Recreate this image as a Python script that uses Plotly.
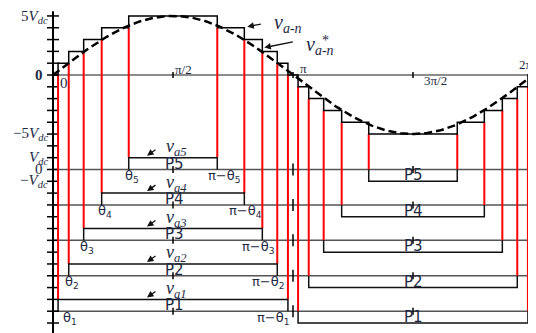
import numpy as np
import plotly.graph_objects as go

# switching angles (degrees), one per level
theta_deg = [3.8, 11.8, 23.0, 36.5, 56.8]
step_levels = [1, 2, 3, 4, 5]
amplitude = 5.0  # peak of the reference sine, in Vdc
pulse_names = ['P1', 'P2', 'P3', 'P4', 'P5']
ytick_vals = [5, 0, -5, -7, -8, -9]
ytick_text = ['5<i>V</i><sub><i>dc</i></sub>', '<b>0</b>', '−5<i>V</i><sub><i>dc</i></sub>',
              '<i>V</i><sub><i>dc</i></sub>', '0', '−<i>V</i><sub><i>dc</i></sub>']
xtick_vals = [0.5, 1.0, 1.5, 2.0]  # in units of pi
xtick_text = ['π/2', 'π', '3π/2', '2π']

pi = np.pi
th = np.radians(theta_deg)
n = len(step_levels)

# the page body keeps its 8px margin, so the figure starts at (8, 8)
W, H = 528, 325
px_x = 480 / (2 * pi)    # px per radian
px_y = 11.81             # px per Vdc
x0_px, y0_px = 45, 67
xr = [-x0_px / px_x, (W - x0_px) / px_x]
yr = [-(H - y0_px) / px_y, y0_px / px_y]
xmax = xr[1]

def base(k):
    return -(n + 3) - 3 * (n - k)

fig = go.Figure()

def line(x, y, color, width, dash='solid'):
    fig.add_trace(go.Scatter(x=x, y=y, mode='lines', hoverinfo='skip',
                             line=dict(color=color, width=width, dash=dash)))

# axes
line([0, xmax], [0, 0], '#666', 1.5)
for k in step_levels:
    line([0, xmax], [base(k), base(k)], '#555', 1.5)
line([0, 0], [5.4, yr[0]], 'black', 2)
tx, ty = [], []
for v in range(5, -22, -1):
    tx += [-6 / px_x, 6 / px_x, None]
    ty += [v, v, None]
for xv in xtick_vals:
    tx += [xv * pi, xv * pi, None]
    ty += [-3 / px_y, 3 / px_y, None]
    for k in step_levels:
        h = 6 if xv in (1.0, 2.0) else 3.5
        tx += [xv * pi, xv * pi, None]
        ty += [base(k) - h / px_y, base(k) + h / px_y, None]
line(tx, ty, 'black', 1.5)

# red switching lines
rx, ry = [], []
for k, t in zip(step_levels, th):
    b = base(k)
    rx += [t, t, None, pi - t, pi - t, None, pi + t, pi + t, None, 2 * pi - t, 2 * pi - t, None]
    ry += [k - 1, b + 1, None, k - 1, b + 1, None, -k, b, None, -k, b, None]
line(rx, ry, '#ff0000', 2)

# pulse trains P1..P5
for k, t in zip(step_levels, th):
    b = base(k)
    line([t, t, pi - t, pi - t], [b, b + 1, b + 1, b], '#111', 1.5)
    line([pi + t, pi + t, 2 * pi - t, 2 * pi - t], [b, b - 1, b - 1, b], '#111', 1.5)

# staircase v_a-n
sx, sy = [0], [0]
for k, t in zip(step_levels, th):
    sx += [t, t]; sy += [k - 1, k]
for k, t in reversed(list(zip(step_levels, th))):
    sx += [pi - t, pi - t]; sy += [k, k - 1]
for k, t in zip(step_levels, th):
    sx += [pi + t, pi + t]; sy += [-(k - 1), -k]
for k, t in reversed(list(zip(step_levels, th))):
    sx += [2 * pi - t, 2 * pi - t]; sy += [-k, -(k - 1)]
sx += [2 * pi]; sy += [0]
line(sx, sy, 'black', 1.5)

# reference sine v*_a-n
xs = np.linspace(0, 2 * pi, 400)
line(xs, amplitude * np.sin(xs), 'black', 2.5, '8px,4px')

serif = 'Liberation Serif'
sans = 'DejaVu Sans'
tc = '#1e2a44'

def label(x, y, text, size=13, family=serif, xanchor='center', xshift=0, yshift=0):
    fig.add_annotation(x=x, y=y, text=text, showarrow=False, xanchor=xanchor,
                       yanchor='middle', xshift=xshift, yshift=yshift,
                       font=dict(family=family, size=size, color=tc))

def arrow(x, y, ax, ay, xshift=0, yshift=0):
    fig.add_annotation(x=x, y=y, text='', showarrow=True, ax=ax, ay=ay,
                       xshift=xshift, yshift=yshift, arrowhead=2, arrowsize=1,
                       arrowwidth=1.3, arrowcolor='#111')

# y labels
for v, s in zip(ytick_vals, ytick_text):
    label(0, v, s, size=15, xanchor='right', xshift=-8 if s == '0' or '<b>' in s else -3,
          yshift=-1 if v == 5 else 0)
label(0, 0, '0', size=15, xshift=11, yshift=-8)

# x labels on the top axis
label(xtick_vals[0] * pi, 0, xtick_text[0], xshift=10, yshift=6)
label(xtick_vals[1] * pi, 0, xtick_text[1], xshift=10, yshift=7)
label(xtick_vals[2] * pi, 0, xtick_text[2], xshift=22, yshift=-5)
label(xtick_vals[3] * pi, 0, xtick_text[3], xanchor='left', xshift=-16, yshift=11)

# waveform names
t3, t4 = th[2], th[3]
arrow(pi - t4, step_levels[3], 15, -3, xshift=3, yshift=1)
label(pi - t4, step_levels[3], '<i>v</i><sub><i>a-n</i></sub>', size=20, xanchor='left', xshift=28, yshift=4)
arrow(pi - t3, step_levels[2], 30, -6, xshift=2, yshift=-8)
label(pi - t3, step_levels[2], '<i>v</i><sub><i>a-n</i></sub>', size=20, xanchor='left', xshift=42, yshift=-6)
label(pi - t3, step_levels[2], '*', size=14, xanchor='left', xshift=58, yshift=-1)

# pulse labels
for k, t, name in zip(step_levels, th, pulse_names):
    b = base(k)
    label(pi / 2, b + 0.5, name, size=15, family=sans, xshift=1)
    label(1.5 * pi, b - 0.5, name, size=15, family=sans)
    arrow(pi / 2, b + 1, 10, -7, xshift=-26, yshift=2)
    label(pi / 2, b + 1, f'<i>v</i><sub><i>a{k}</i></sub>', size=18, xanchor='left', xshift=-9, yshift=10)
    label(t, b, f'θ<sub>{k}</sub>', size=13, family=sans,
          xshift=12 if k == 1 else 3, yshift=-7)
    label(pi - t, b, f'π−θ<sub>{k}</sub>', size=13, family=sans,
          xshift=7 - 22 * (n - k) / 4, yshift=-7)

fig.update_layout(width=W, height=H, margin=dict(l=0, r=0, t=0, b=0),
                  plot_bgcolor='white', paper_bgcolor='white', showlegend=False,
                  xaxis=dict(range=xr, visible=False, fixedrange=True),
                  yaxis=dict(range=yr, visible=False, fixedrange=True))

fig.write_html('out.html')
